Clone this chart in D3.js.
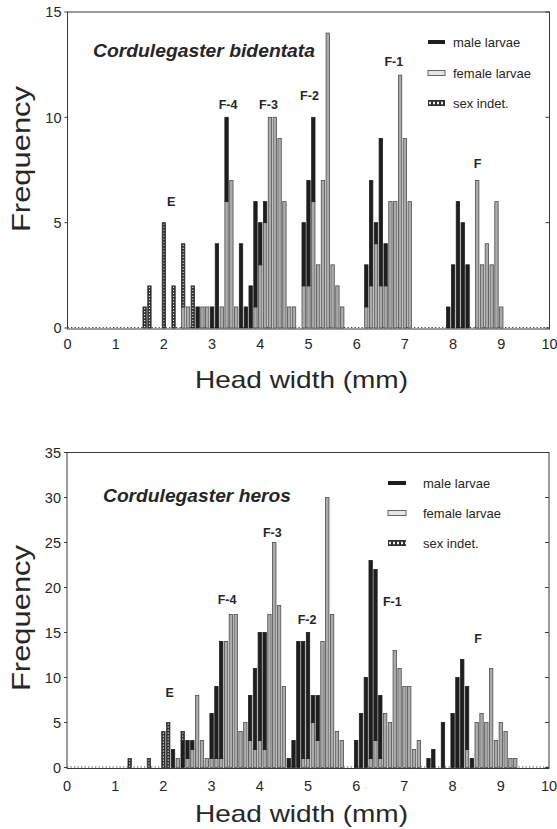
<!DOCTYPE html>
<html><head><meta charset="utf-8">
<script src="https://cdn.jsdelivr.net/npm/d3@7"></script>
<style>
body{margin:0;background:#fff}
text{font-family:"Liberation Sans",Arial,Helvetica,sans-serif;fill:#262626}
</style>
</head><body>
<svg id="chart" width="557" height="829"></svg>
<script>
// ---------- tick labels / categories ----------
const xTicks = [0,1,2,3,4,5,6,7,8,9,10];
const yTicksTop = [0,5,10,15];
const yTicksBottom = [0,5,10,15,20,25,30,35];
const seriesNames = ["male larvae","female larvae","sex indet."];
const xTitle = "Head width (mm)";
const yTitle = "Frequency";

// ---------- Cordulegaster bidentata (0.1 mm bins) ----------
const bidWidth  = [1.6,1.7,2.0,2.2,2.4,2.5,2.6,2.7,2.8,2.9,3.0,3.1,3.2,3.3,3.4,3.5,3.6,3.7,3.8,3.9,4.0,4.1,4.2,4.3,4.4,4.5,4.6,4.7,4.9,5.0,5.1,5.2,5.3,5.4,5.5,5.6,5.7,6.2,6.3,6.4,6.5,6.6,6.7,6.8,6.9,7.0,7.1,7.9,8.0,8.1,8.2,8.3,8.5,8.6,8.7,8.8,8.9,9.0];
const bidFemale = [0,  0,  0,  0,  1,  1,  0,  0,  1,  1,  0,  0,  1,  6,  7,  1,  0,  0,  0,  1,  3,  5,  10, 10, 9,  6,  1,  1,  2,  2,  6,  3,  7,  14, 3,  2,  1,  1,  2,  4,  2,  2,  6,  6,  12, 9,  6,  0,  0,  0,  0,  0,  7,  3,  4,  3,  6,  1];
const bidMale   = [0,  0,  0,  0,  0,  0,  0,  1,  0,  0,  1,  4,  0,  4,  0,  0,  4,  1,  2,  5,  2,  1,  0,  0,  0,  0,  0,  0,  3,  5,  4,  0,  0,  0,  0,  0,  0,  2,  5,  1,  7,  2,  0,  0,  0,  0,  0,  1,  3,  6,  5,  3,  0,  0,  0,  0,  0,  0];
const bidIndet  = [1,  2,  5,  2,  3,  0,  2,  0,  0,  0,  0,  0,  0,  0,  0,  0,  0,  0,  0,  0,  0,  0,  0,  0,  0,  0,  0,  0,  0,  0,  0,  0,  0,  0,  0,  0,  0,  0,  0,  0,  0,  0,  0,  0,  0,  0,  0,  0,  0,  0,  0,  0,  0,  0,  0,  0,  0,  0];
const bidLabels = ["E","F-4","F-3","F-2","F-1","F"];
const bidLabelX = [2.15,3.33,4.17,5.02,6.77,8.51];
const bidLabelY = [5.8,10.4,10.4,10.8,12.45,7.6];

// ---------- Cordulegaster heros (0.1 mm bins) ----------
const herWidth  = [1.3,1.7,2.0,2.1,2.2,2.3,2.4,2.5,2.6,2.7,2.8,2.9,3.0,3.1,3.2,3.3,3.4,3.5,3.6,3.7,3.8,3.9,4.0,4.1,4.2,4.3,4.4,4.5,4.6,4.7,4.8,4.9,5.0,5.1,5.2,5.3,5.4,5.5,5.6,5.7,6.0,6.1,6.2,6.3,6.4,6.5,6.6,6.7,6.8,6.9,7.0,7.1,7.2,7.3,7.5,7.6,7.8,8.0,8.1,8.2,8.3,8.4,8.5,8.6,8.7,8.8,8.9,9.0,9.1,9.2,9.3];
const herFemale = [0,  0,  0,  0,  0,  1,  0,  1,  2,  8,  3,  1,  1,  1,  1,  14, 17, 17, 4,  5,  3,  2,  3,  2,  17, 25, 18, 9,  0,  0,  0,  1,  1,  5,  3,  14, 30, 17, 4,  3,  0,  0,  0,  1,  3,  1,  6,  5,  13, 11, 9,  9,  2,  3,  0,  0,  0,  0,  0,  0,  2,  0,  5,  6,  5,  11, 3,  5,  4,  1,  1];
const herMale   = [0,  0,  0,  0,  2,  0,  3,  2,  1,  0,  0,  0,  5,  8,  13, 0,  0,  0,  0,  0,  5,  9,  12, 13, 0,  0,  0,  0,  1,  3,  14, 13, 14, 3,  5,  0,  0,  0,  0,  0,  3,  6,  10, 22, 19, 7,  0,  0,  0,  0,  0,  0,  0,  0,  1,  2,  5,  6,  10, 12, 7,  1,  0,  0,  0,  0,  0,  0,  0,  0,  0];
const herIndet  = [1,  1,  4,  5,  0,  0,  1,  0,  0,  0,  0,  0,  0,  0,  0,  0,  0,  0,  0,  0,  0,  0,  0,  0,  0,  0,  0,  0,  0,  0,  0,  0,  0,  0,  0,  0,  0,  0,  0,  0,  0,  0,  0,  0,  0,  0,  0,  0,  0,  0,  0,  0,  0,  0,  0,  0,  0,  0,  0,  0,  0,  0,  0,  0,  0,  0,  0,  0,  0,  0,  0];
const herLabels = ["E","F-4","F-3","F-2","F-1","F"];
const herLabelX = [2.13,3.32,4.26,4.98,6.75,8.53];
const herLabelY = [7.8,18.2,25.6,15.9,18.0,13.8];

const svg = d3.select("#chart");

function panel(o){
  const g = svg.append("g");
  const x = d3.scaleLinear().domain([0,10]).range([o.x0,o.x1]);
  const y = d3.scaleLinear().domain([0,o.ymax]).range([o.yb,o.yt]);

  const rows = o.width.map((w,i)=>({w, female:o.female[i], male:o.male[i], indet:o.indet[i]}));
  const stack = d3.stack().keys(["female","male","indet"])(rows);
  const bw = x(0.07)-x(0);

  // dotted baseline
  g.append("line").attr("x1",o.x0).attr("x2",o.x1)
    .attr("y1",y(0)-0.5).attr("y2",y(0)-0.5)
    .attr("stroke","#444").attr("stroke-width",1).attr("stroke-dasharray","1.3,2.2");

  const style = {
    female:{fill:"#ababab",stroke:"#4d4d4d"},
    male:{fill:"#1e1e1e",stroke:"#1e1e1e"},
    indet:{fill:"#2f2f2f",stroke:"#2f2f2f"}
  };
  stack.forEach(layer=>{
    const k = layer.key;
    const segs = layer.filter(d=>d[1]-d[0]>0);
    g.selectAll(null).data(segs).enter().append("rect")
      .attr("x",d=>x(d.data.w)-bw/2)
      .attr("width",bw)
      .attr("y",d=>y(d[1]))
      .attr("height",d=>y(d[0])-y(d[1]))
      .attr("fill",style[k].fill)
      .attr("stroke",style[k].stroke)
      .attr("stroke-width",0.8);
    if(k==="indet"){
      g.selectAll(null).data(segs).enter().append("line")
        .attr("x1",d=>x(d.data.w)).attr("x2",d=>x(d.data.w))
        .attr("y1",d=>y(d[1])+1).attr("y2",d=>y(d[0]))
        .attr("stroke","#e8e8e8").attr("stroke-width",1.1)
        .attr("stroke-dasharray","1.2,1.8");
    }
  });

  // frame
  g.append("rect").attr("x",o.x0).attr("y",o.yt).attr("width",o.x1-o.x0).attr("height",y(0)-o.yt+1)
    .attr("fill","none").attr("stroke","#3a3a3a").attr("stroke-width",1);

  // y ticks
  const ya = g.append("g");
  o.yticks.forEach(t=>{
    ya.append("line").attr("x1",o.x0-3).attr("x2",o.x0).attr("y1",y(t)).attr("y2",y(t)).attr("stroke","#3a3a3a");
    ya.append("line").attr("x1",o.x1-4).attr("x2",o.x1).attr("y1",y(t)).attr("y2",y(t)).attr("stroke","#3a3a3a");
    ya.append("text").attr("x",o.x0-6).attr("y",y(t)).attr("dy","0.36em")
      .attr("text-anchor","end").attr("font-size",14.5).text(t);
  });
  // x tick labels
  xTicks.forEach(t=>{
    g.append("text").attr("x",x(t)).attr("y",o.xLabelY).attr("text-anchor","middle")
      .attr("font-size",14.5).text(t);
  });
  // axis titles
  g.append("text").attr("x",301.5).attr("y",o.xTitleY).attr("text-anchor","middle")
    .attr("font-size",24).attr("textLength",213).attr("lengthAdjust","spacingAndGlyphs").text(xTitle);
  g.append("text").attr("transform",`translate(30,${o.yTitleC}) rotate(-90)`)
    .attr("text-anchor","middle").attr("font-size",25)
    .attr("textLength",146).attr("lengthAdjust","spacingAndGlyphs").text(yTitle);

  // species title
  g.append("text").attr("x",o.titleX).attr("y",o.titleY)
    .attr("font-size",19).attr("font-weight","bold").attr("font-style","italic")
    .attr("textLength",o.titleLen).attr("lengthAdjust","spacingAndGlyphs").text(o.title);

  // group labels
  o.labels.forEach((l,i)=>{
    g.append("text").attr("x",x(o.labelX[i])).attr("y",y(o.labelY[i]))
      .attr("text-anchor","middle").attr("font-size",12.5).attr("font-weight","bold").text(l);
  });

  // legend
  const L = o.leg;
  const lg = g.append("g");
  lg.append("rect").attr("x",L.sx).attr("y",L.y[0]-2).attr("width",L.sw).attr("height",4).attr("fill","#1e1e1e");
  lg.append("rect").attr("x",L.sx).attr("y",L.y[1]-2.5).attr("width",L.sw).attr("height",5)
    .attr("fill","#e6e6e6").attr("stroke","#555").attr("stroke-width",0.9);
  lg.append("rect").attr("x",L.sx).attr("y",L.y[2]-3).attr("width",L.sw).attr("height",6).attr("fill","#2f2f2f");
  lg.append("line").attr("x1",L.sx+1).attr("x2",L.sx+L.sw).attr("y1",L.y[2]).attr("y2",L.y[2])
    .attr("stroke","#eee").attr("stroke-width",2.4).attr("stroke-dasharray","2,2");
  seriesNames.forEach((s,i)=>{
    lg.append("text").attr("x",L.tx).attr("y",L.y[i]).attr("dy","0.35em").attr("font-size",13).text(s);
  });
}

panel({
  x0:67.5,x1:549.5,yb:328,yt:12,ymax:15,yticks:yTicksTop,
  width:bidWidth,female:bidFemale,male:bidMale,indet:bidIndet,
  xLabelY:349,xTitleY:388,yTitleC:159,
  title:"Cordulegaster bidentata",titleX:93,titleY:56.5,titleLen:222,
  labels:bidLabels,labelX:bidLabelX,labelY:bidLabelY,
  leg:{sx:428,sw:17,tx:453,y:[42,73,103]}
});
panel({
  x0:67,x1:549,yb:767.5,yt:452.5,ymax:35,yticks:yTicksBottom,
  width:herWidth,female:herFemale,male:herMale,indet:herIndet,
  xLabelY:791,xTitleY:822,yTitleC:618,
  title:"Cordulegaster heros",titleX:103,titleY:501.5,titleLen:188,
  labels:herLabels,labelX:herLabelX,labelY:herLabelY,
  leg:{sx:388,sw:18,tx:423,y:[483,513,543]}
});
</script>
</body></html>
